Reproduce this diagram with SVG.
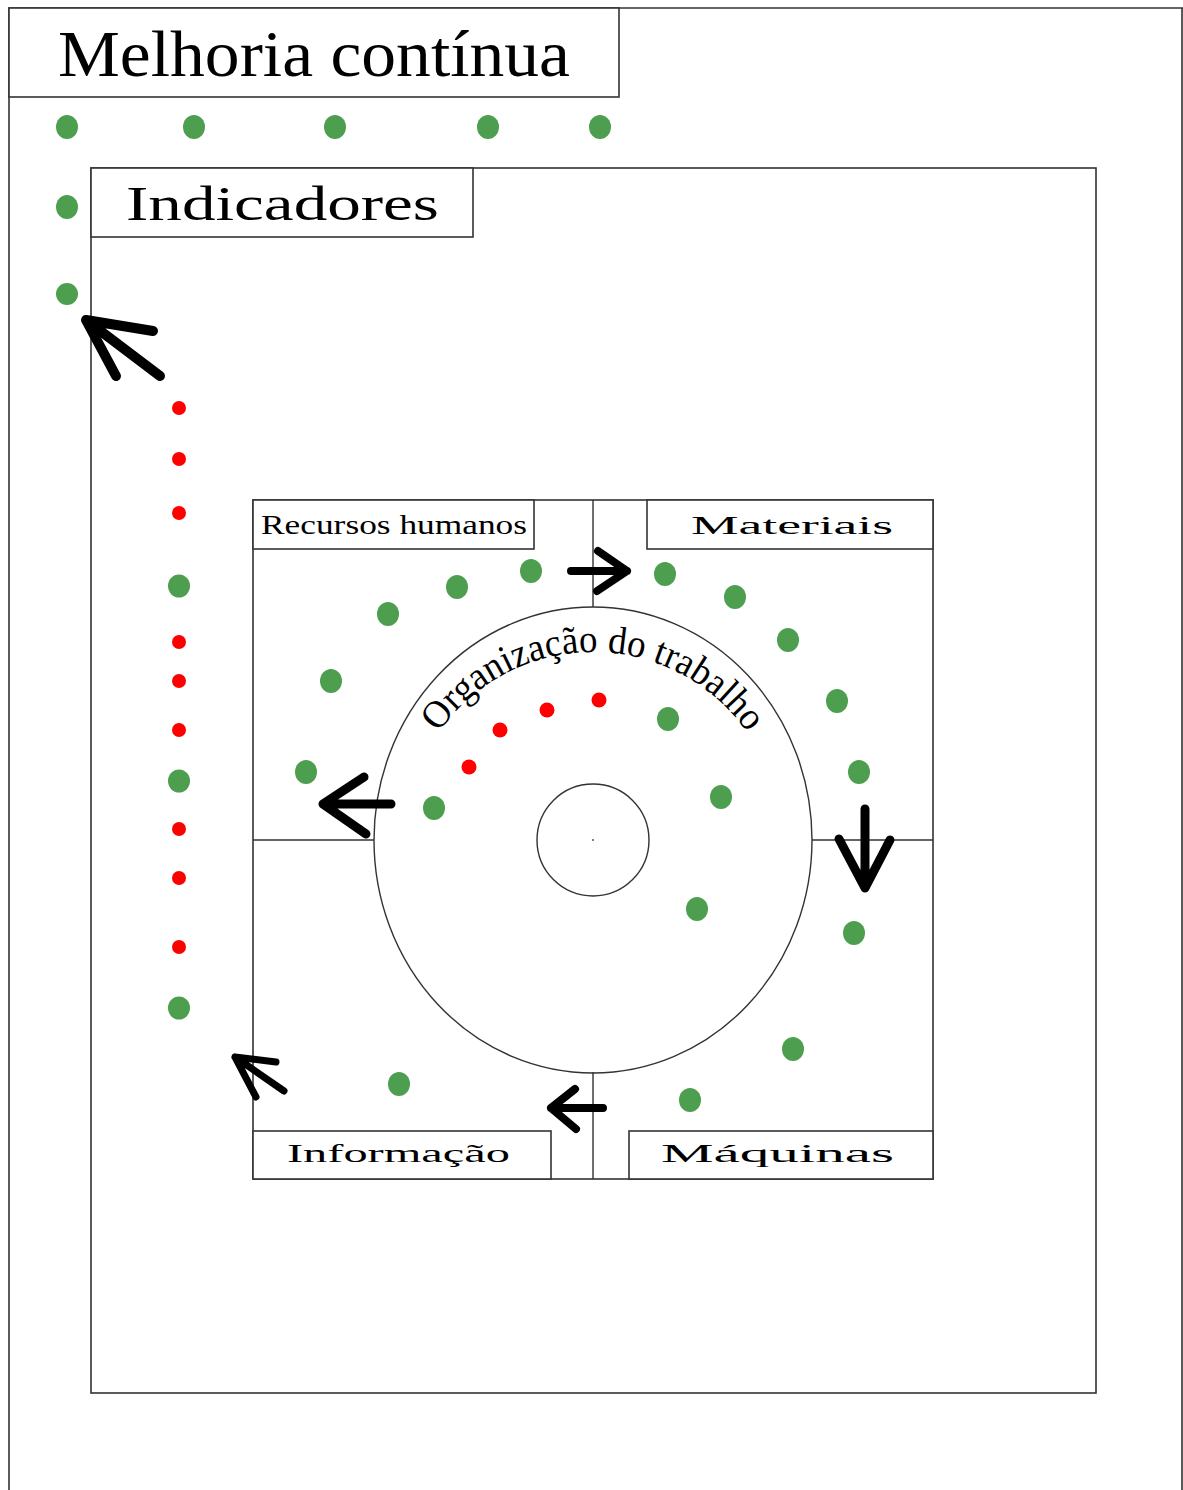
<svg xmlns="http://www.w3.org/2000/svg" width="1183" height="1490" viewBox="0 0 1183 1490">
<style>
.frame{fill:none;stroke:#333;stroke-width:1.6}
.box{fill:#fff;stroke:#333;stroke-width:1.6}
.line{stroke:#333;stroke-width:1.4;fill:none}
.g{fill:#4e9e50}
.r{fill:#f00}
.arrow{fill:none;stroke:#000;stroke-linecap:round;stroke-linejoin:round}
.t{font-family:"Liberation Serif","Times New Roman",serif;fill:#000}
</style>
<defs>
<path id="arcp" d="M 405,840 A 188 188 0 0 1 781,840"/>
</defs>
<rect width="1183" height="1490" fill="#fff"/>

<g id="outer-frame">
<path class="frame" d="M9,1490 V8 H1183 M1182,8 V1490"/>
</g>

<g id="melhoria">
<rect class="box" x="9" y="8" width="610" height="89"/>
<text class="t" x="58" y="76" font-size="66" textLength="512" lengthAdjust="spacingAndGlyphs">Melhoria contínua</text>
</g>

<g id="indicadores">
<rect class="frame" x="91" y="168" width="1005" height="1225"/>
<rect class="box" x="91" y="168" width="382" height="69"/>
<text class="t" x="126" y="220" font-size="49" textLength="313" lengthAdjust="spacingAndGlyphs">Indicadores</text>
</g>

<g id="square">
<rect class="frame" x="253" y="500" width="680" height="679"/>
<path class="line" d="M593,500 V607 M593,1072 V1179 M253,840 H374 M812,840 H933"/>
</g>

<g id="organizacao">
<ellipse class="line" cx="593" cy="840" rx="219" ry="233"/>
<circle class="line" cx="593" cy="840" r="56"/>
<circle cx="593" cy="840" r="1" fill="#555"/>
<text class="t" font-size="39"><textPath href="#arcp" startOffset="50%" text-anchor="middle" textLength="362" lengthAdjust="spacingAndGlyphs">Organização do trabalho</textPath></text>
</g>

<g id="recursos-humanos">
<rect class="box" x="253" y="500" width="281" height="49"/>
<text class="t" x="261" y="534" font-size="27" textLength="266" lengthAdjust="spacingAndGlyphs">Recursos humanos</text>
</g>
<g id="materiais">
<rect class="box" x="647" y="500" width="286" height="49"/>
<text class="t" x="691" y="534" font-size="25" textLength="202" lengthAdjust="spacingAndGlyphs">Materiais</text>
</g>
<g id="informacao">
<rect class="box" x="253" y="1131" width="298" height="48"/>
<text class="t" x="287" y="1162" font-size="25" textLength="223" lengthAdjust="spacingAndGlyphs">Informação</text>
</g>
<g id="maquinas">
<rect class="box" x="629" y="1131" width="304" height="48"/>
<text class="t" x="661" y="1162" font-size="25" textLength="233" lengthAdjust="spacingAndGlyphs">Máquinas</text>
</g>

<g id="connectors">
<path class="arrow" stroke-width="10" d="M160,376 L86,320 M153,331 L86,320 L116,376"/>
<path class="arrow" stroke-width="8" d="M571,571 H627 M598,551 L627,571 L597,591"/>
<path class="arrow" stroke-width="9" d="M391,804 H323 M364,777 L323,804 L366,834"/>
<path class="arrow" stroke-width="9" d="M865,809 V888 M839,839 L865,888 L890,840"/>
<path class="arrow" stroke-width="8" d="M603,1108 H551 M575,1089 L551,1108 L576,1129"/>
<path class="arrow" stroke-width="7" d="M284,1091 L235,1057 M276,1062 L235,1057 L256,1097"/>
</g>

<g id="dots">
<ellipse class="g" cx="67" cy="127" rx="11" ry="12"/>
<ellipse class="g" cx="194" cy="127" rx="11" ry="12"/>
<ellipse class="g" cx="335" cy="127" rx="11" ry="12"/>
<ellipse class="g" cx="488" cy="127" rx="11" ry="12"/>
<ellipse class="g" cx="600" cy="127" rx="11" ry="12"/>
<ellipse class="g" cx="67" cy="207" rx="11" ry="12"/>
<ellipse class="g" cx="67" cy="294" rx="11" ry="11"/>
<circle class="r" cx="179" cy="408" r="7"/>
<circle class="r" cx="179" cy="459" r="7"/>
<circle class="r" cx="179" cy="513" r="7"/>
<ellipse class="g" cx="179" cy="586" rx="11" ry="11.5"/>
<circle class="r" cx="179" cy="642" r="7"/>
<circle class="r" cx="179" cy="681" r="7"/>
<circle class="r" cx="179" cy="730" r="7"/>
<ellipse class="g" cx="179" cy="781" rx="11" ry="11.5"/>
<circle class="r" cx="179" cy="829" r="7"/>
<circle class="r" cx="179" cy="878" r="7"/>
<circle class="r" cx="179" cy="947" r="7"/>
<ellipse class="g" cx="179" cy="1008" rx="11" ry="11.5"/>
<ellipse class="g" cx="531" cy="571" rx="11" ry="12"/>
<ellipse class="g" cx="457" cy="587" rx="11" ry="12"/>
<ellipse class="g" cx="388" cy="614" rx="11" ry="12"/>
<ellipse class="g" cx="331" cy="681" rx="11" ry="12"/>
<ellipse class="g" cx="306" cy="772" rx="11" ry="12"/>
<ellipse class="g" cx="434" cy="808" rx="11" ry="12"/>
<ellipse class="g" cx="665" cy="574" rx="11" ry="12"/>
<ellipse class="g" cx="735" cy="597" rx="11" ry="12"/>
<ellipse class="g" cx="788" cy="640" rx="11" ry="12"/>
<ellipse class="g" cx="837" cy="701" rx="11" ry="12"/>
<ellipse class="g" cx="859" cy="772" rx="11" ry="12"/>
<ellipse class="g" cx="668" cy="719" rx="11" ry="12"/>
<ellipse class="g" cx="721" cy="797" rx="11" ry="12"/>
<ellipse class="g" cx="697" cy="909" rx="11" ry="12"/>
<ellipse class="g" cx="854" cy="933" rx="11" ry="12"/>
<ellipse class="g" cx="793" cy="1049" rx="11" ry="12"/>
<ellipse class="g" cx="690" cy="1100" rx="11" ry="12"/>
<ellipse class="g" cx="399" cy="1084" rx="11" ry="12"/>
<circle class="r" cx="469" cy="767" r="7.5"/>
<circle class="r" cx="500" cy="730" r="7.5"/>
<circle class="r" cx="547" cy="710" r="7.5"/>
<circle class="r" cx="599" cy="700" r="7.5"/>
</g>
</svg>
